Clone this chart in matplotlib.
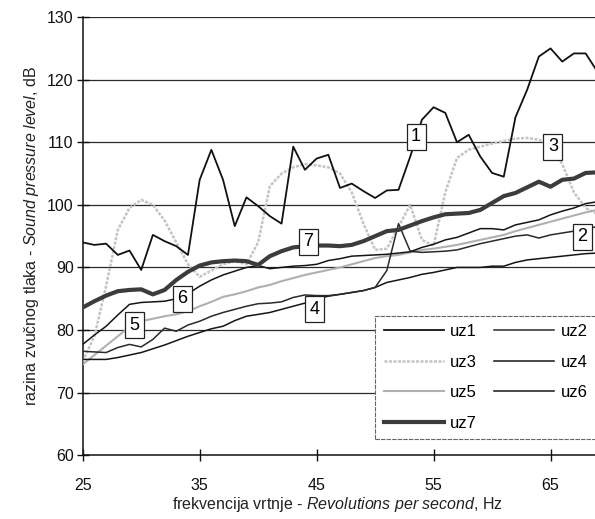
import matplotlib
matplotlib.use("Agg")
import matplotlib.pyplot as plt
from matplotlib import font_manager

# ---- font selection ----
fam = "Liberation Sans"
try:
    font_manager.findfont("Liberation Sans Narrow", fallback_to_default=False)
    fam = "Liberation Sans Narrow"
except Exception:
    pass
plt.rcParams['font.family'] = [fam, 'DejaVu Sans']
plt.rcParams['mathtext.fontset'] = 'custom'
plt.rcParams['mathtext.rm'] = fam
plt.rcParams['mathtext.it'] = fam + ':italic'

# ---- data ----
hz = list(range(25, 70))
uz1 = [94, 93.6, 93.8, 92, 92.7, 89.6, 95.2, 94.2, 93.4, 92,
       104, 108.8, 104, 96.6, 101.2, 99.8, 98.2, 97, 109.3, 105.6,
       107.4, 108, 102.7, 103.4, 102.2, 101.1, 102.3, 102.4, 107.7, 113.6,
       115.6, 114.7, 110, 111.2, 107.7, 105.1, 104.5, 114, 118.4, 123.7,
       125, 122.9, 124.2, 124.2, 121.3]
uz2 = [76.6, 76.5, 76.4, 77.2, 77.7, 77.3, 78.5, 80.3, 79.8, 80.8,
       81.4, 82.2, 82.8, 83.3, 83.8, 84.2, 84.3, 84.5, 85.2, 85.6,
       85.5, 85.5, 85.7, 86, 86.3, 86.8, 89.5, 97, 92.6, 92.4,
       92.5, 92.6, 92.8, 93.3, 93.8, 94.2, 94.6, 95, 95.2, 94.7,
       95.2, 95.5, 95.8, 96.2, 96.5]
uz3 = [75, 79, 87, 96, 99.5, 100.8, 100, 97.5, 94, 90.5,
       88.5, 89.5, 90.5, 91, 90.5, 94, 103, 105, 106, 106.5,
       106.3, 106, 105, 102, 97, 92.8, 93, 96.5, 100, 94.4,
       93.5, 102, 107.5, 108.8, 109.3, 109.8, 110.2, 110.6, 110.7, 110.4,
       109.5, 106.5, 102, 99.5, 98.5]
uz4 = [75.3, 75.3, 75.3, 75.6, 76, 76.4, 77, 77.6, 78.3, 79,
       79.6, 80.2, 80.6, 81.5, 82.2, 82.5, 82.8, 83.3, 83.8, 84.3,
       85, 85.4, 85.7, 86, 86.3, 86.8, 87.6, 88, 88.4, 88.9,
       89.2, 89.6, 90, 90, 90, 90.2, 90.2, 90.8, 91.2, 91.4,
       91.6, 91.8, 92, 92.2, 92.3]
uz5 = [74.5, 76, 77.5, 79, 80.5, 81.4, 81.8, 82.2, 82.5, 83,
       83.8, 84.5, 85.3, 85.7, 86.2, 86.8, 87.2, 87.8, 88.3, 88.8,
       89.2, 89.6, 90, 90.5, 91, 91.5, 91.8, 92, 92.4, 92.8,
       93, 93.3, 93.6, 94, 94.4, 94.8, 95.2, 95.8, 96.3, 96.8,
       97.3, 97.8, 98.3, 98.8, 99.2]
uz6 = [77.7, 79.2, 80.6, 82.4, 84.1, 84.4, 84.5, 84.6, 85, 85.8,
       87, 88, 88.8, 89.4, 90, 90.3, 89.8, 90, 90.2, 90.3,
       90.5, 91.1, 91.4, 91.8, 91.9, 92, 92.1, 92.3, 92.5, 93.2,
       93.7, 94.4, 94.8, 95.5, 96.2, 96.2, 96, 96.8, 97.2, 97.6,
       98.4, 99, 99.5, 100.2, 100.5]
uz7 = [83.6, 84.6, 85.5, 86.2, 86.4, 86.5, 85.7, 86.4, 88, 89.3,
       90.3, 90.8, 91, 91.1, 91, 90.4, 91.8, 92.6, 93.2, 93.4,
       93.5, 93.5, 93.4, 93.6, 94.2, 95, 95.8, 96, 96.7, 97.4,
       98, 98.5, 98.6, 98.7, 99.2, 100.3, 101.4, 101.9, 102.8, 103.7,
       102.9, 104, 104.2, 105.1, 105.2]

series_names = ["uz1", "uz2", "uz3", "uz4", "uz5", "uz6", "uz7"]
box_labels = ["1", "2", "3", "4", "5", "6", "7"]
box_hz = [53.5, 67.7, 65.2, 44.8, 29.4, 33.5, 44.3]
box_db = [110.9, 94.9, 109.3, 83.3, 80.8, 85.0, 94.1]

x_ticks = [25, 35, 45, 55, 65]
y_ticks = [60, 70, 80, 90, 100, 110, 120, 130]

# ---- figure ----
fig = plt.figure(figsize=(5.95, 5.19), dpi=100)
ax = fig.add_axes([0.139, 0.123, 0.861, 0.844])
ax.set_xlim(25, 68.8)
ax.set_ylim(60, 130)

for yv in y_ticks[1:]:
    ax.axhline(yv, color='#2a2a2a', lw=0.9, zorder=1)

styles = {
    "uz1": dict(color='#111111', lw=1.3),
    "uz2": dict(color='#2a2a2a', lw=1.1),
    "uz3": dict(color='#c4c4c4', lw=1.8, ls=(0, (1.2, 0.6))),
    "uz4": dict(color='#151515', lw=1.1),
    "uz5": dict(color='#b0b0b0', lw=1.5),
    "uz6": dict(color='#151515', lw=1.1),
    "uz7": dict(color='#3c3c3c', lw=3.0),
}
data = {"uz1": uz1, "uz2": uz2, "uz3": uz3, "uz4": uz4,
        "uz5": uz5, "uz6": uz6, "uz7": uz7}
handles = {}
for name in ["uz3", "uz5", "uz4", "uz2", "uz6", "uz7", "uz1"]:
    ln, = ax.plot(hz, data[name], zorder=3, label=name, **styles[name])
    handles[name] = ln

for lab, bx, by in zip(box_labels, box_hz, box_db):
    ax.text(bx, by, lab, ha='center', va='center', fontsize=13, zorder=6,
            bbox=dict(boxstyle='square,pad=0.25', fc='white', ec='#222222', lw=0.9))

order = ["uz1", "uz3", "uz5", "uz7", "uz2", "uz4", "uz6"]
leg = ax.legend([handles[n] for n in order], order, ncol=2, loc='upper left',
                bbox_to_anchor=(0.571, 0.318), fontsize=12, frameon=True,
                fancybox=False, edgecolor='#666666', framealpha=1,
                handlelength=3.6, handletextpad=0.4, labelspacing=0.93,
                columnspacing=1.0, borderpad=0.5, borderaxespad=0)
leg.get_frame().set_linewidth(0.8)
leg.get_frame().set_linestyle((0, (4, 1)))
leg.set_zorder(7)

ax.spines['top'].set_visible(False)
ax.spines['right'].set_visible(False)
ax.spines['left'].set_color('#111111')
ax.spines['bottom'].set_color('#111111')
ax.spines['left'].set_linewidth(1.1)
ax.spines['bottom'].set_linewidth(1.1)

ax.set_xticks(x_ticks)
ax.set_yticks(y_ticks)
ax.tick_params(axis='both', direction='inout', length=9, width=1.0,
               labelsize=11.5, colors='#111111')
ax.tick_params(axis='y', pad=2)
ax.tick_params(axis='x', pad=12)

ax.set_xlabel(r"frekvencija vrtnje - $\it{Revolutions\ per\ second}$, Hz",
              fontsize=11.5, color='#222222', va='center')
ax.xaxis.set_label_coords(0.498, -0.112)
ax.set_ylabel(r"razina zvučnog tlaka - $\it{Sound\ pressure\ level}$, dB",
              fontsize=11.5, color='#222222', labelpad=4)

fig.savefig("out.png", dpi=100)
